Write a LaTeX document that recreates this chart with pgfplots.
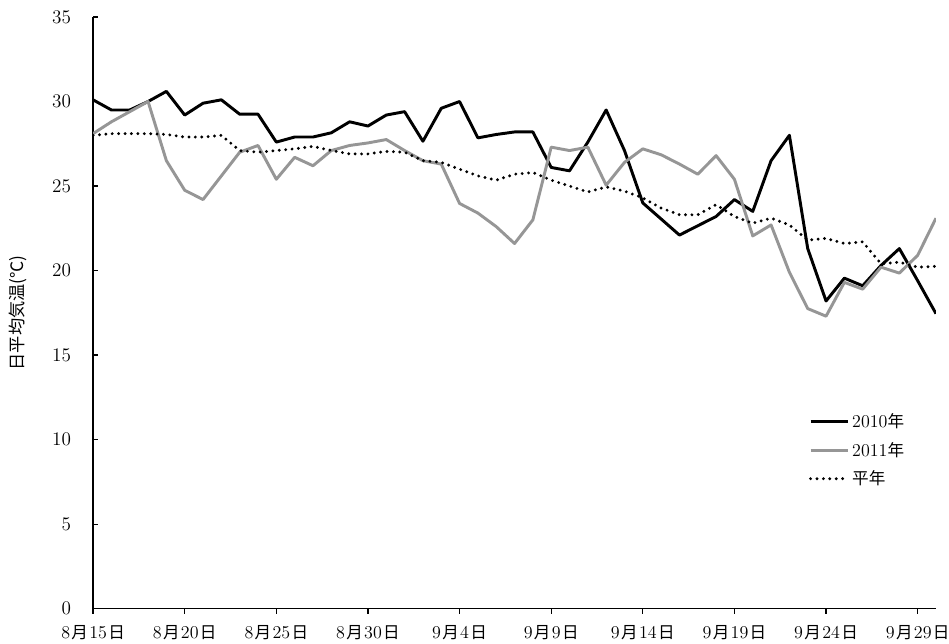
\documentclass[border=0pt]{standalone}
\usepackage{fontspec}
\usepackage{pgfplots}
\usepackage{pgfplotstable}
\pgfplotsset{compat=1.18}
\newfontfamily\cjk[Scale=0.92]{Noto Sans CJK JP}
\newcommand{\lbl}[2]{#1\kern1pt{\cjk 月}\kern1pt#2\kern1pt{\cjk 日}}
\definecolor{gline}{RGB}{150,150,150}
\pgfplotstableread{
i a b c
0 30.1 28.1 28.0
1 29.5 28.8 28.1
2 29.5 29.4 28.1
3 30.0 30.0 28.1
4 30.6 26.5 28.05
5 29.2 24.75 27.9
6 29.9 24.2 27.9
7 30.1 25.6 28.0
8 29.25 27.0 27.1
9 29.25 27.4 27.0
10 27.6 25.4 27.1
11 27.9 26.7 27.2
12 27.9 26.2 27.35
13 28.15 27.1 27.1
14 28.8 27.4 26.9
15 28.55 27.55 26.9
16 29.2 27.75 27.05
17 29.4 27.1 27.0
18 27.65 26.5 26.5
19 29.6 26.3 26.4
20 30.0 23.97 26.0
21 27.85 23.4 25.6
22 28.05 22.6 25.35
23 28.2 21.6 25.7
24 28.2 23.0 25.8
25 26.1 27.3 25.35
26 25.9 27.1 25.0
27 27.6 27.3 24.65
28 29.5 25.05 24.95
29 27.1 26.4 24.7
30 24.0 27.2 24.3
31 23.05 26.85 23.7
32 22.1 26.3 23.3
33 22.65 25.7 23.3
34 23.2 26.8 23.9
35 24.2 25.4 23.2
36 23.5 22.05 22.8
37 26.5 22.7 23.1
38 28.0 19.9 22.7
39 21.3 17.75 21.8
40 18.2 17.3 21.9
41 19.55 19.3 21.6
42 19.1 18.9 21.7
43 20.3 20.2 20.4
44 21.3 19.85 20.5
45 19.4 20.9 20.2
46 17.45 23.1 20.25
}\data
\begin{document}
\begin{tikzpicture}
\begin{axis}[name=ax, scale only axis, width=631.5pt, height=443.25pt,
  xmin=0, xmax=46, ymin=0, ymax=35,
  axis x line*=bottom, axis y line*=left,
  axis line style={line width=1pt, black},
  xtick={0,5,...,45},
  xticklabels={\lbl{8}{15},\lbl{8}{20},\lbl{8}{25},\lbl{8}{30},\lbl{9}{4},\lbl{9}{9},\lbl{9}{14},\lbl{9}{19},\lbl{9}{24},\lbl{9}{29}},
  ytick={0,5,...,35},
  xtick align=outside, ytick align=inside,
  major tick length=4pt,
  tick style={black, line width=0.9pt},
  font=\fontsize{13.5}{15}\selectfont,
  yticklabel style={xshift=-13pt},
  xticklabel style={yshift=-5pt},
  ylabel={\cjk 日平均気温(℃)},
  every axis y label/.style={at={(axis description cs:0,0.5)}, xshift=-56pt, rotate=90, anchor=center, font=\fontsize{14}{16}\selectfont},
  legend style={at={(axis description cs:0.849,0.335)}, anchor=north west, draw=none, fill=none,
    font=\fontsize{13.5}{15}\selectfont, row sep=5.5pt, inner sep=0pt},
  legend cell align=left,
  legend image code/.code={\draw[#1] (0pt,0pt) -- (28pt,0pt);},
]
\addplot[black, line width=2.2pt, line join=round] table[x=i, y=a] {\data};
\addlegendentry{2010{\cjk 年}}
\addplot[gline, line width=2.2pt, line join=round] table[x=i, y=b] {\data};
\addlegendentry{2011{\cjk 年}}
\addplot[black, line width=2.4pt, line cap=round, dash pattern=on 0pt off 4.8pt] table[x=i, y=c] {\data};
\addlegendentry{{\cjk 平年}}
\end{axis}
\pgfresetboundingbox
\path ([xshift=-69.75pt, yshift=-26.25pt]ax.south west) rectangle ([xshift=9.75pt, yshift=12.75pt]ax.north east);
\end{tikzpicture}
\end{document}
